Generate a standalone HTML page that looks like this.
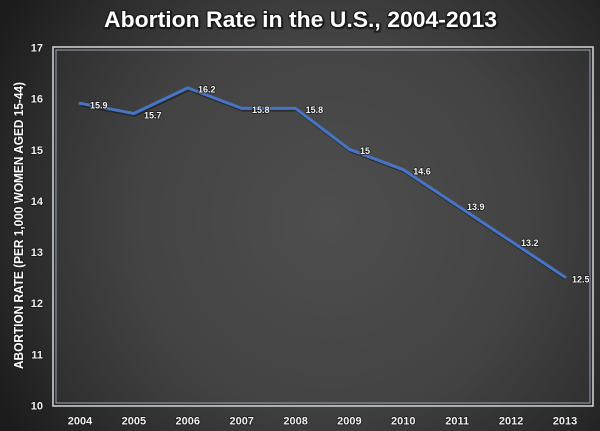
<!DOCTYPE html>
<html>
<head>
<meta charset="utf-8">
<style>
  html, body { margin:0; padding:0; background:#222; }
  svg { display:block; }
  text { font-family: "Liberation Sans", "DejaVu Sans", sans-serif; font-weight:bold; }
</style>
</head>
<body>
<svg width="600" height="431" viewBox="0 0 600 431" xmlns="http://www.w3.org/2000/svg">
  <defs>
    <radialGradient id="bg" cx="330" cy="215" r="380" gradientUnits="userSpaceOnUse">
      <stop offset="0" stop-color="#505050"/>
      <stop offset="0.45" stop-color="#444444"/>
      <stop offset="0.8" stop-color="#2c2c2c"/>
      <stop offset="1" stop-color="#1c1c1c"/>
    </radialGradient>
    <radialGradient id="pa" cx="330" cy="220" r="330" gradientUnits="userSpaceOnUse">
      <stop offset="0" stop-color="#4e4e4e"/>
      <stop offset="0.6" stop-color="#434343"/>
      <stop offset="1" stop-color="#2e2e2e"/>
    </radialGradient>
    <filter id="sh" x="-10%" y="-10%" width="120%" height="120%">
      <feDropShadow dx="0.6" dy="0.8" stdDeviation="0.6" flood-color="#000" flood-opacity="0.8"/>
    </filter>
  </defs>

  <rect x="0" y="0" width="600" height="431" fill="url(#bg)"/>

  <!-- plot area -->
  <rect x="56" y="50" width="534" height="354" fill="url(#pa)"/>
  <rect x="53" y="47" width="540" height="359" fill="none" stroke="#c9ccd2" stroke-width="1.6"/>
  <rect x="56" y="50" width="534" height="353" fill="none" stroke="#9aa4b4" stroke-width="1"/>

  <!-- title -->
  <text x="104" y="27" font-size="22" fill="#ffffff" stroke="#1a1a1a" stroke-width="2.2" paint-order="stroke" textLength="393" lengthAdjust="spacingAndGlyphs" filter="url(#sh)">Abortion Rate in the U.S., 2004-2013</text>

  <!-- y axis title -->
  <text transform="translate(23,225.5) rotate(-90)" text-anchor="middle" font-size="12.5" fill="#ffffff" stroke="#1a1a1a" stroke-width="1.6" paint-order="stroke" textLength="287" lengthAdjust="spacingAndGlyphs">ABORTION RATE (PER 1,000 WOMEN AGED 15-44)</text>

  <!-- y tick labels -->
  <g font-size="11" fill="#f2f2f2" text-anchor="end" stroke="#151515" stroke-width="1.4" paint-order="stroke">
    <text x="43" y="51.5">17</text>
    <text x="43" y="102.6">16</text>
    <text x="43" y="153.8">15</text>
    <text x="43" y="204.9">14</text>
    <text x="43" y="256.1">13</text>
    <text x="43" y="307.2">12</text>
    <text x="43" y="358.4">11</text>
    <text x="43" y="409.5">10</text>
  </g>

  <!-- x tick labels -->
  <g font-size="11" fill="#f2f2f2" text-anchor="middle" stroke="#151515" stroke-width="1.4" paint-order="stroke">
    <text x="80" y="424.5">2004</text>
    <text x="133.9" y="424.5">2005</text>
    <text x="187.8" y="424.5">2006</text>
    <text x="241.7" y="424.5">2007</text>
    <text x="295.6" y="424.5">2008</text>
    <text x="349.4" y="424.5">2009</text>
    <text x="403.3" y="424.5">2010</text>
    <text x="457.2" y="424.5">2011</text>
    <text x="511.1" y="424.5">2012</text>
    <text x="565" y="424.5">2013</text>
  </g>

  <!-- series -->
  <polyline points="80,103.3 133.9,113.5 187.8,87.9 241.7,108.4 295.6,108.4 349.4,149.3 403.3,169.7 457.2,205.5 511.1,241.3 565,277.1"
    fill="none" stroke="#000" stroke-opacity="0.35" stroke-width="3.5" stroke-linejoin="round" transform="translate(1,1.5)"/>
  <polyline points="80,103.3 133.9,113.5 187.8,87.9 241.7,108.4 295.6,108.4 349.4,149.3 403.3,169.7 457.2,205.5 511.1,241.3 565,277.1"
    fill="none" stroke="#4674c6" stroke-width="3" stroke-linejoin="round" stroke-linecap="round"/>

  <!-- data labels -->
  <g font-size="9" fill="#f4f4f4" stroke="#1a1a1a" stroke-width="1.5" paint-order="stroke">
    <text x="90" y="108.3">15.9</text>
    <text x="144" y="118.5">15.7</text>
    <text x="198" y="92.5">16.2</text>
    <text x="252" y="113">15.8</text>
    <text x="305.6" y="113">15.8</text>
    <text x="360" y="154">15</text>
    <text x="413.3" y="174.5">14.6</text>
    <text x="467" y="210">13.9</text>
    <text x="521" y="246">13.2</text>
    <text x="572" y="282.3">12.5</text>
  </g>
</svg>
</body>
</html>
